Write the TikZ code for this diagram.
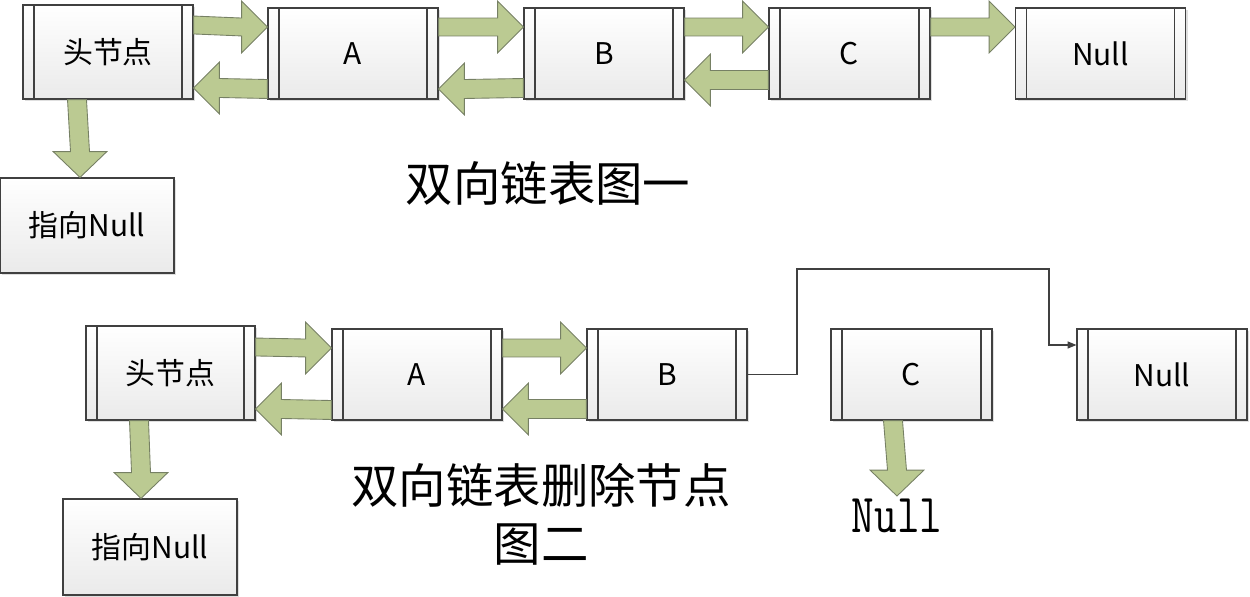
\documentclass[tikz,border=0pt]{standalone}
\usepackage{fontspec}
\setmainfont{Noto Sans CJK SC}
\usetikzlibrary{arrows.meta, shadows}
\definecolor{boxline}{RGB}{64,64,64}
\definecolor{boxbottom}{RGB}{234,234,234}
\definecolor{arrowfill}{RGB}{187,202,146}
\definecolor{arrowline}{RGB}{118,128,100}
\tikzset{
  plainbox/.style={draw=boxline, line width=0.7pt, top color=white, bottom color=boxbottom,
    drop shadow={shadow xshift=1.2pt, shadow yshift=-1.2pt, opacity=0.25, fill=gray},
    minimum width=3.48cm, minimum height=1.9cm, inner sep=0pt, font=\fontsize{17}{20}\selectfont},
  listbox/.style={plainbox, minimum width=3.4cm, minimum height=1.82cm,
    path picture={\draw[boxline, line width=0.7pt]
      ([xshift=0.22cm]path picture bounding box.north west) -- ([xshift=0.22cm]path picture bounding box.south west)
      ([xshift=-0.22cm]path picture bounding box.north east) -- ([xshift=-0.22cm]path picture bounding box.south east);}},
  blockarrow/.style={draw=arrowline, fill=arrowfill, line width=0.5pt, line join=miter},
  rarrow/.style={blockarrow, to path={([yshift=-5.1pt]\tikztostart) -- ([xshift=-14.7pt,yshift=-5.1pt]\tikztotarget)
    -- ([xshift=-14.7pt,yshift=-14.7pt]\tikztotarget) -- (\tikztotarget) -- ([xshift=-14.7pt,yshift=14.7pt]\tikztotarget)
    -- ([xshift=-14.7pt,yshift=5.1pt]\tikztotarget) -- ([yshift=5.1pt]\tikztostart) -- cycle}},
  larrow/.style={blockarrow, to path={([yshift=-5.4pt]\tikztostart) -- ([xshift=14.7pt,yshift=-5.4pt]\tikztotarget)
    -- ([xshift=14.7pt,yshift=-14.7pt]\tikztotarget) -- (\tikztotarget) -- ([xshift=14.7pt,yshift=14.7pt]\tikztotarget)
    -- ([xshift=14.7pt,yshift=5.4pt]\tikztotarget) -- ([yshift=5.4pt]\tikztostart) -- cycle}},
  darrow/.style={blockarrow, to path={([xshift=-5.4pt]\tikztostart) -- ([xshift=-5.4pt,yshift=14.7pt]\tikztotarget)
    -- ([xshift=-15.3pt,yshift=14.7pt]\tikztotarget) -- (\tikztotarget) -- ([xshift=15.3pt,yshift=14.7pt]\tikztotarget)
    -- ([xshift=5.4pt,yshift=14.7pt]\tikztotarget) -- ([xshift=5.4pt]\tikztostart) -- cycle}},
  link/.style={draw=boxline, line width=0.6pt, -{Triangle[length=5pt, width=4pt]}},
  title/.style={font=\fontsize{27}{33}\selectfont, align=center}
}
\begin{document}
\begin{tikzpicture}[x=0.02cm, y=-0.02cm]
  \useasboundingbox (0,0) rectangle (1250,597);

  % first list
  \node[listbox, minimum height=1.88cm] (h1) at (108, 52) {头节点};
  \node[listbox] (a1) at (353, 53.5) {A};
  \node[listbox, minimum width=3.2cm] (b1) at (604, 53.5) {B};
  \node[listbox, minimum width=3.22cm] (c1) at (849.5, 53.5) {C};
  \node[listbox] (nu1) at (1100.5, 53.5) {Null};
  \node[plainbox] (n1) at (87, 225.5) {指向Null};
  \node[title] (t1) at (548, 183) {双向链表图一};

  \draw[rarrow] (h1.east |- 0,25) to (a1.west |- 0,27);
  \draw[larrow] (a1.west |- 0,89) to (h1.east |- 0,88);
  \draw[rarrow] (a1.east |- 0,27) to (b1.west |- 0,27);
  \draw[larrow] (b1.west |- 0,88) to (a1.east |- 0,89);
  \draw[rarrow] (b1.east |- 0,27) to (c1.west |- 0,27);
  \draw[larrow] (c1.west |- 0,80) to (b1.east |- 0,80);
  \draw[rarrow] (c1.east |- 0,27) to (nu1.west |- 0,27);
  \draw[darrow] (h1.south -| 77,0) to (n1.north -| 80,0);

  % second list
  \node[listbox, minimum width=3.38cm, minimum height=1.88cm] (h2) at (170.5, 373) {头节点};
  \node[listbox] (a2) at (417, 374.5) {A};
  \node[listbox, minimum width=3.2cm] (b2) at (667, 374.5) {B};
  \node[listbox, minimum width=3.22cm] (c2) at (911.5, 374.5) {C};
  \node[listbox] (nu2) at (1162, 374.5) {Null};
  \node[plainbox, minimum height=1.92cm] (n2) at (150, 547) {指向Null};
  \node[title] (t2) at (541, 514) {双向链表删除节点\\图二};
  \node[font=\fontsize{25}{30}\ttfamily] (cn) at (897, 516) {\scalebox{1}[1.25]{Null}};
  \coordinate (cend) at (897, 496);

  \draw[rarrow] (h2.east |- 0,347) to (a2.west |- 0,348);
  \draw[larrow] (a2.west |- 0,410) to (h2.east |- 0,409);
  \draw[rarrow] (a2.east |- 0,348) to (b2.west |- 0,348);
  \draw[larrow] (b2.west |- 0,409) to (a2.east |- 0,409);
  \draw[darrow] (h2.south -| 139,0) to (n2.north -| 141,0);
  \draw[darrow] (c2.south -| 893,0) to (cend);
  \draw[link] (b2.east) -| (797,269) -| (1049,345) -- (nu2.west |- 0,345);
\end{tikzpicture}
\end{document}
